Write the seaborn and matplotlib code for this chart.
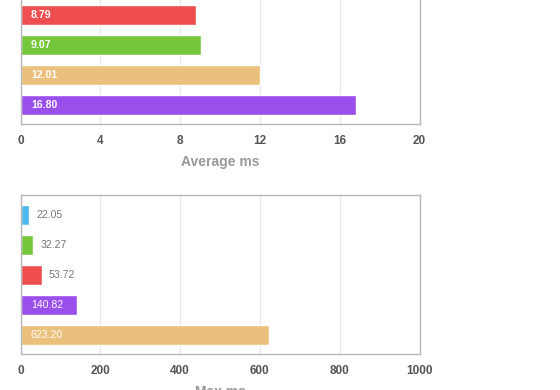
import matplotlib
matplotlib.use("Agg")
import matplotlib.pyplot as plt
import seaborn as sns

# top chart (the first bar is cut off by the top edge of the picture)
avg_names = ["red", "green", "tan", "purple"]
avg_values = [8.79, 9.07, 12.01, 16.80]
avg_ticks = [0, 4, 8, 12, 16, 20]

# bottom chart
max_names = ["blue", "green", "red", "purple", "tan"]
max_values = [22.05, 32.27, 53.72, 140.82, 623.20]
max_ticks = [0, 200, 400, 600, 800, 1000]

colors = {
    "red": "#EE4E50",
    "green": "#76C63B",
    "tan": "#EBC07D",
    "purple": "#9A4EEB",
    "blue": "#4DB8EC",
}

sns.set_theme(style="white")
plt.rcParams["font.family"] = ["Liberation Sans", "DejaVu Sans"]

fig = plt.figure(figsize=(5.6, 3.9), dpi=100)


def draw(ax, names, values, ticks, label, ylim, bold_labels):
    sns.barplot(x=values, y=names, hue=names, palette=colors, legend=False,
                orient="h", width=0.68, saturation=1, ax=ax, zorder=2)
    ax.set_xlim(ticks[0], ticks[-1])
    ax.set_xticks(ticks)
    ax.set_xticklabels([str(t) for t in ticks])
    ax.set_ylim(*ylim)
    ax.set_yticks([])
    ax.set_ylabel("")
    ax.grid(axis="x", color="#e8e8e8", linewidth=1, zorder=0)
    for s in ax.spines.values():
        s.set_color("#b8b8b8")
        s.set_linewidth(1)
    ax.tick_params(axis="x", length=0, pad=8, labelsize=8.5, labelcolor="#555555")
    for t in ax.get_xticklabels():
        t.set_fontweight("bold")
    ax.set_xlabel(label, fontsize=10, color="#999999", fontweight="bold", labelpad=6)

    xmax = ticks[-1]
    weight = "bold" if bold_labels else "normal"
    for i, v in enumerate(values):
        txt = f"{v:.2f}"
        if v / xmax > 0.1:
            ax.annotate(txt, xy=(0, i), xytext=(7.5, 0), textcoords="offset points",
                        va="center", ha="left", fontsize=7.6, color="white",
                        fontweight=weight, zorder=3)
        else:
            ax.annotate(txt, xy=(v, i), xytext=(5, 0), textcoords="offset points",
                        va="center", ha="left", fontsize=7.6, color="#777777", zorder=3)


left = 20.5 / 560
width = 399 / 560
h = 159 / 390

ax1 = fig.add_axes([left, (390 - 124) / 390, width, h])
draw(ax1, avg_names, avg_values, avg_ticks, "Average ms", (3.633, -1.667), True)

ax2 = fig.add_axes([left, (390 - 354) / 390, width, h])
draw(ax2, max_names, max_values, max_ticks, "Max ms", (4.633, -0.667), False)

fig.savefig("out.png", dpi=100)
